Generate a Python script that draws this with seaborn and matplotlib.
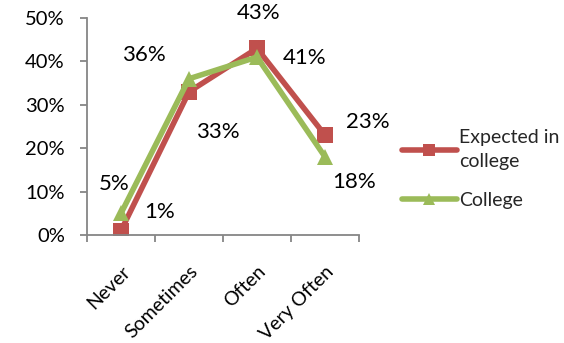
import matplotlib
matplotlib.use("Agg")
import matplotlib.pyplot as plt
import seaborn as sns
import pandas as pd
from matplotlib.ticker import FixedLocator, PercentFormatter

categories = ["Never", "Sometimes", "Often", "Very Often"]
expected_in_college = [1, 33, 43, 23]
college = [5, 36, 41, 18]
series_names = ["Expected in\ncollege", "College"]

df = pd.DataFrame({
    "freq": categories * 2,
    "pct": expected_in_college + college,
    "series": [series_names[0]] * 4 + [series_names[1]] * 4,
})

sns.set_theme(style="white")
plt.rcParams["font.family"] = ["Lato", "DejaVu Sans"]

RED = "#C0504D"
GREEN = "#9BBB59"
AXIS = "#868686"

fig = plt.figure(figsize=(5.64, 3.43), dpi=100)
ax = fig.add_axes([87 / 564, 1 - 235 / 343, (359 - 87) / 564, (235 - 18) / 343])

sns.lineplot(
    data=df, x="freq", y="pct", hue="series", style="series",
    hue_order=series_names, style_order=series_names,
    palette=[RED, GREEN], markers=["s", "^"], dashes=False,
    linewidth=4, markersize=12, markeredgewidth=0, sort=False,
    ax=ax, legend=False,
)

ax.set_xlim(-0.5, 3.5)
ax.set_ylim(0, 50)
ax.set_xlabel("")
ax.set_ylabel("")
ax.yaxis.set_major_locator(FixedLocator([0, 10, 20, 30, 40, 50]))
ax.yaxis.set_major_formatter(PercentFormatter(decimals=0))
ax.set_xticks(range(len(categories)))
ax.set_xticklabels(categories, rotation=45, ha="right", rotation_mode="anchor")
ax.xaxis.set_minor_locator(FixedLocator([-0.5, 0.5, 1.5, 2.5, 3.5]))
ax.tick_params(axis="x", which="major", length=0, pad=20, labelsize=14, labelcolor="black")
ax.tick_params(axis="x", which="minor", length=5, width=1.3, color=AXIS, direction="out", bottom=True)
ax.tick_params(axis="y", which="major", length=5, width=1.3, color=AXIS, direction="out", left=True,
               labelsize=14.5, pad=11, labelcolor="black")

for side in ["top", "right"]:
    ax.spines[side].set_visible(False)
for side in ["left", "bottom"]:
    ax.spines[side].set_color(AXIS)
    ax.spines[side].set_linewidth(1.3)

# data labels, offset from each point in pixels
label_offsets = {
    0: [(39, -19), (29, 40), (2, -35), (43, -13)],
    1: [(-7, -29), (-45, -24), (48, 1), (29, 25)],
}
for s, vals in enumerate([expected_in_college, college]):
    for i, v in enumerate(vals):
        dx, dy = label_offsets[s][i]
        ax.annotate(f"{v}%", (i, v), xytext=(dx, -dy), textcoords="offset pixels",
                    ha="center", va="center", fontsize=16, color="black",
                    annotation_clip=False)

handles = [
    plt.Line2D([], [], color=RED, lw=4, marker="s", markersize=8, markeredgewidth=0),
    plt.Line2D([], [], color=GREEN, lw=4, marker="^", markersize=8, markeredgewidth=0),
]
leg = fig.legend(handles, series_names, loc="upper left", bbox_to_anchor=(394 / 564, 1 - 121 / 343),
                 frameon=False, fontsize=14, handlelength=2.85, handletextpad=0.1,
                 labelspacing=1.1, borderaxespad=0)
for t in leg.get_texts():
    t.set_linespacing(1.55)

fig.savefig("out.png", dpi=100)
